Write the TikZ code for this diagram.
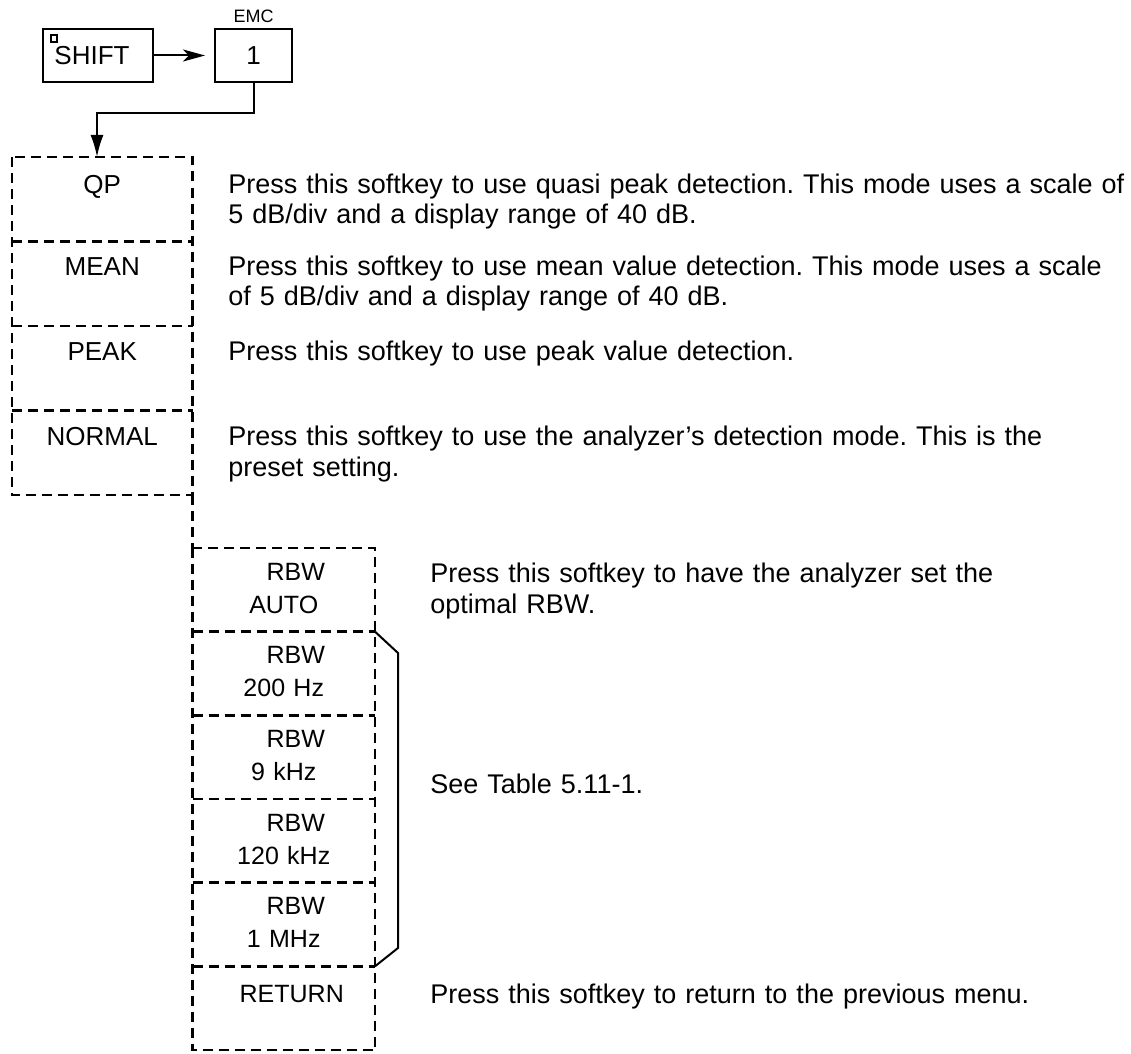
\documentclass[tikz,border=0pt]{standalone}
\usepackage{fontspec}
\setmainfont{Liberation Sans}
\usetikzlibrary{arrows.meta,positioning}
\frenchspacing

\tikzset{
  hardkey/.style={draw, line width=1pt, inner sep=0pt, outer sep=0pt, minimum height=26.5pt, font=\fontsize{13}{15}\selectfont},
  softkey/.style={inner sep=0pt, outer sep=0pt},
  keytext/.style={anchor=base, inner sep=0pt, font=\fontsize{13}{15}\selectfont},
  rbwtext/.style={anchor=base, inner sep=0pt, text width=90pt, align=center, font=\fontsize{12.5}{16.5}\selectfont},
  desc/.style={anchor=base west, inner sep=0pt, text width=500pt, align=left, font=\fontsize{13.5}{15.5}\selectfont},
  dashline/.style={line width=1.2pt, dash pattern=on 5pt off 3pt},
}
\newcommand\rbwkey[1]{\hspace*{12pt}RBW\\#1}

\begin{document}
\begin{tikzpicture}[x=0.5pt,y=-0.5pt]
  \useasboundingbox (0,0) rectangle (1131,1054);

  % hard keys
  \node[hardkey, minimum width=55pt] (shift) at (98,55.5) {\hspace*{-6pt}SHIFT};
  \draw[line width=0.8pt] (51,35) rectangle (57,42);
  \node[hardkey, minimum width=38.5pt] (one) at (253.5,55.5) {1};
  \node[above=3pt of one, inner sep=0pt, font=\fontsize{9}{10}\selectfont] (emc) {EMC};
  \draw[line width=1pt, -{Stealth[length=11pt,width=6pt,inset=3pt]}, shorten >=5pt] (shift) -- (one);

  % detector menu
  \node[softkey, minimum width=90.25pt, minimum height=42.25pt] (qp) at (102.25,199.25) {};
  \node[softkey, minimum width=90.25pt, minimum height=42.25pt] (mean) at (102.25,283.75) {};
  \node[softkey, minimum width=90.25pt, minimum height=42.25pt] (peak) at (102.25,368.25) {};
  \node[softkey, minimum width=90.25pt, minimum height=42.25pt] (normal) at (102.25,452.75) {};
  \draw[dashline] (qp.north west) rectangle (normal.south east);
  \draw[dashline] (qp.south west) -- (qp.south east);
  \draw[dashline] (mean.south west) -- (mean.south east);
  \draw[dashline] (peak.south west) -- (peak.south east);
  \node[keytext] (qptext) at (102.25,193) {QP};
  \node[keytext] (meantext) at (102.25,275) {MEAN};
  \node[keytext] (peaktext) at (102.25,360) {PEAK};
  \node[keytext] (normaltext) at (102.25,445) {NORMAL};

  \coordinate (bend) at (97,113);
  \draw[line width=1pt, -{Latex[length=11pt,width=6.5pt]}] (one.south) |- (bend) -- (bend |- qp.north);

  \node[desc] (qpdesc) at (228,193) {Press this softkey to use quasi peak detection. This mode uses a scale of\\5 dB/div and a display range of 40 dB.};
  \node[desc] (meandesc) at (228,275) {Press this softkey to use mean value detection. This mode uses a scale\\of 5 dB/div and a display range of 40 dB.};
  \node[desc] (peakdesc) at (228,360) {Press this softkey to use peak value detection.};
  \node[desc] (normaldesc) at (228,445) {Press this softkey to use the analyzer's detection mode. This is the\\preset setting.};

  % RBW menu
  \node[softkey, minimum width=91.25pt, minimum height=41.83pt] (auto) at (283.75,589.83) {};
  \node[softkey, minimum width=91.25pt, minimum height=41.83pt] (twohundred) at (283.75,673.5) {};
  \node[softkey, minimum width=91.25pt, minimum height=41.83pt] (ninek) at (283.75,757.17) {};
  \node[softkey, minimum width=91.25pt, minimum height=41.83pt] (onetwenty) at (283.75,840.83) {};
  \node[softkey, minimum width=91.25pt, minimum height=41.83pt] (onemeg) at (283.75,924.5) {};
  \node[softkey, minimum width=91.25pt, minimum height=41.83pt] (return) at (283.75,1008.17) {};
  \draw[dashline] (normal.south east) -- (auto.north west);
  \draw[dashline] (auto.north west) rectangle (return.south east);
  \draw[dashline] (auto.south west) -- (auto.south east);
  \draw[dashline] (twohundred.south west) -- (twohundred.south east);
  \draw[dashline] (ninek.south west) -- (ninek.south east);
  \draw[dashline] (onetwenty.south west) -- (onetwenty.south east);
  \draw[dashline] (onemeg.south west) -- (onemeg.south east);
  \node[rbwtext] (autotext) at ([yshift=-16pt]auto.north) {\rbwkey{AUTO}};
  \node[rbwtext] (twohundredtext) at ([yshift=-16pt]twohundred.north) {\rbwkey{200 Hz}};
  \node[rbwtext] (ninektext) at ([yshift=-16pt]ninek.north) {\rbwkey{9 kHz}};
  \node[rbwtext] (onetwentytext) at ([yshift=-16pt]onetwenty.north) {\rbwkey{120 kHz}};
  \node[rbwtext] (onemegtext) at ([yshift=-16pt]onemeg.north) {\rbwkey{1 MHz}};
  \node[rbwtext] (returntext) at ([xshift=4pt,yshift=-18.3pt]return.north) {RETURN};

  \coordinate (bracetop) at (398,653);
  \coordinate (bracebot) at (398,948);
  \draw[line width=1pt] (auto.south east) -- (bracetop) -- (bracebot) -- (onemeg.south east);

  \node[desc] (autodesc) at (430,582) {Press this softkey to have the analyzer set the\\optimal RBW.};
  \node[desc] (tabledesc) at (430,793) {See Table 5.11-1.};
  \node[desc] (returndesc) at (430,1003) {Press this softkey to return to the previous menu.};
\end{tikzpicture}
\end{document}
